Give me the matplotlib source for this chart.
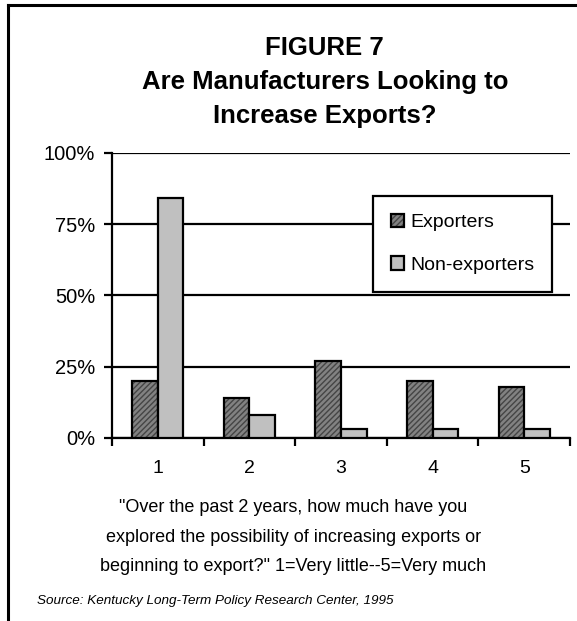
import numpy as np
import matplotlib.pyplot as plt
from matplotlib.patches import Patch
from matplotlib.lines import Line2D

#Data
categories = ["1", "2", "3", "4", "5"]
exporters = [20, 14, 27, 20, 18]
non_exporters = [84, 8, 3, 3, 3]
y_ticks = [0, 25, 50, 75, 100]
y_labels = ["0%", "25%", "50%", "75%", "100%"]

title_lines = "FIGURE 7\nAre Manufacturers Looking to\nIncrease Exports?"
x_label = ("\"Over the past 2 years, how much have you\n"
           "explored the possibility of increasing exports or\n"
           "beginning to export?\" 1=Very little--5=Very much")
source = "Source: Kentucky Long-Term Policy Research Center, 1995"

plt.rcParams["font.family"] = ["Liberation Sans", "DejaVu Sans"]

#Figure and axes
fig = plt.figure(figsize=(5.77, 6.21), dpi=100)
ax = fig.add_axes([0.194, 0.2947, 0.794, 0.4594])

x = np.arange(1, len(categories) + 1)
w = 0.28
dark = "#828282"
light = "#c0c0c0"

#Exporters: hatched fill, then black outline on top
ax.bar(x - w / 2, exporters, w, color=dark, edgecolor="#454545", hatch="//////", linewidth=0, zorder=3)
ax.bar(x - w / 2, exporters, w, fill=False, edgecolor="black", linewidth=1.6, zorder=4)
#Non-exporters
ax.bar(x + w / 2, non_exporters, w, color=light, edgecolor="black", linewidth=1.6, zorder=4)

#Axes styling
ax.set_xlim(0.5, len(categories) + 0.5)
ax.set_ylim(0, 100)
ax.set_yticks(y_ticks)
ax.set_yticklabels(y_labels, fontsize=14.5)
ax.yaxis.grid(True, color="black", linewidth=1.6)
ax.set_axisbelow(True)

ax.set_xticks(np.arange(0.5, len(categories) + 1, 1))
ax.set_xticklabels([])
ax.set_xticks(x, minor=True)
ax.set_xticklabels(categories, minor=True, fontsize=14)
ax.tick_params(axis="x", which="minor", length=0, pad=16)
ax.tick_params(axis="x", which="major", direction="out", length=6, width=1.6)
ax.tick_params(axis="y", direction="out", length=6, width=1.6, pad=6)

for side in ["top", "right"]:
    ax.spines[side].set_visible(False)
for side in ["left", "bottom"]:
    ax.spines[side].set_linewidth(1.6)
    ax.spines[side].set_color("black")

#Legend
h_exp = (Patch(facecolor=dark, edgecolor="#454545", hatch="//////", linewidth=0),
         Patch(fill=False, edgecolor="black", linewidth=1.6))
h_non = Patch(facecolor=light, edgecolor="black", linewidth=1.6)
leg = ax.legend([h_exp, h_non], ["Exporters", "Non-exporters"], loc="upper left",
                bbox_to_anchor=(0.57, 0.848), fontsize=14, frameon=True, fancybox=False,
                framealpha=1, edgecolor="black", handlelength=0.7, handleheight=0.7,
                handletextpad=0.3, labelspacing=1.3, borderpad=0.9, borderaxespad=0)
leg.get_frame().set_linewidth(1.6)
leg.set_zorder(5)

#Title and texts
fig.text(0.563, 1 - 82 / 621, title_lines, ha="center", va="center", fontsize=18.5,
         fontweight="bold", linespacing=1.55)
fig.text(0.508, 1 - 537 / 621, x_label, ha="center", va="center", fontsize=13, linespacing=1.95)
fig.text(0.064, 1 - 601 / 621, source, ha="left", va="center", fontsize=9.7, style="italic")

#Page border (cropped box: top and left sides)
fig.add_artist(Line2D([8 / 577, 1], [1 - 5 / 621, 1 - 5 / 621], color="black", linewidth=2.2,
                      transform=fig.transFigure))
fig.add_artist(Line2D([8 / 577, 8 / 577], [0, 1 - 5 / 621], color="black", linewidth=2.2,
                      transform=fig.transFigure))

fig.savefig("out.png", dpi=100)
